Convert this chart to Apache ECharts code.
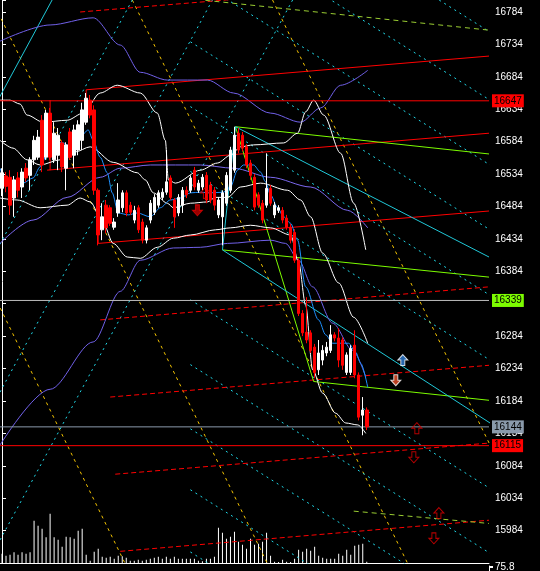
<!DOCTYPE html>
<html><head><meta charset="utf-8">
<script src="https://cdn.jsdelivr.net/npm/echarts@6/dist/echarts.min.js"></script>
<style>html,body{margin:0;padding:0;background:#000;}#c{width:540px;height:571px;}</style>
</head><body><div id="c"></div>
<script>
// ---------- data ----------
const tickLabels = [16784,16734,16684,16634,16584,16534,16484,16434,16384,16284,16234,16184,16134,16084,16034,15984];
// candles: [open, close, low, high]
const candles = [
[16512,16536,16500,16543],[16531,16515,16506,16537],[16529,16486,16471,16540],[16497,16525,16468,16531],
[16528,16509,16498,16537],[16514,16537,16497,16543],[16543,16528,16522,16551],[16532,16556,16509,16560],
[16556,16586,16548,16593],[16560,16591,16556,16602],[16617,16548,16537,16625],[16560,16628,16556,16633],
[16628,16560,16556,16636],[16556,16597,16551,16614],[16563,16594,16540,16605],[16582,16545,16537,16586],
[16543,16579,16509,16583],[16599,16560,16556,16605],[16563,16602,16543,16610],[16571,16610,16563,16617],
[16586,16633,16571,16644],[16614,16651,16610,16659],[16648,16625,16620,16656],[16633,16509,16502,16640],
[16509,16440,16424,16512],[16448,16468,16432,16489],[16486,16451,16443,16494],[16482,16458,16454,16486],
[16452,16460,16448,16466],[16474,16494,16468,16520],[16482,16505,16475,16509],[16505,16474,16469,16509],
[16486,16475,16471,16491],[16463,16478,16458,16485],[16482,16448,16443,16486],[16460,16432,16427,16465],
[16432,16451,16427,16455],[16463,16489,16458,16494],[16475,16498,16471,16503],[16486,16505,16482,16509],
[16498,16506,16494,16512],[16506,16522,16502,16571],[16528,16498,16494,16532],[16494,16468,16451,16497],
[16474,16498,16469,16503],[16486,16509,16474,16514],[16509,16502,16497,16515],[16509,16528,16505,16532],
[16540,16514,16509,16545],[16509,16520,16505,16525],[16514,16529,16509,16534],[16532,16494,16489,16537],
[16517,16494,16489,16522],[16509,16486,16478,16514],[16471,16494,16466,16498],[16468,16505,16424,16509],
[16489,16532,16485,16537],[16509,16571,16505,16576],[16540,16594,16536,16607],[16597,16571,16566,16605],
[16594,16574,16569,16599],[16576,16548,16543,16580],[16551,16532,16525,16556],[16529,16483,16478,16534],
[16502,16486,16482,16506],[16489,16463,16458,16494],[16486,16512,16482,16566],[16512,16489,16485,16517],
[16471,16486,16466,16491],[16478,16482,16474,16486],[16478,16463,16458,16483],[16466,16452,16448,16471],
[16452,16432,16427,16457],[16444,16401,16397,16449],[16401,16319,16315,16404],[16319,16289,16284,16324],
[16290,16278,16273,16344],[16289,16262,16258,16293],[16267,16228,16219,16272],[16232,16258,16224,16278],
[16247,16262,16239,16270],[16258,16267,16253,16275],[16262,16286,16258,16301],[16286,16281,16276,16290],
[16281,16247,16236,16296],[16278,16239,16232,16282],[16228,16255,16224,16259],[16228,16265,16224,16270],
[16270,16224,16219,16293],[16224,16159,16154,16228],[16162,16170,16131,16190],[16170,16144,16139,16174]
];
const volumes = [93,73,83,107,83,107,93,107,423,373,343,257,493,257,233,163,263,257,243,323,343,83,23,113,
143,63,53,63,43,73,67,53,23,23,33,23,33,43,53,63,43,63,43,63,43,43,43,43,43,23,17,43,43,63,
353,303,243,263,313,213,183,143,243,183,193,213,303,73,13,10,33,13,10,43,133,113,143,123,163,73,53,43,
43,43,93,73,133,83,173,183,193,13];
const slotCount = 122;

// price levels with axis tags
const levelValues = [16647, 16339, 16144, 16115];
const levelTags = ['16647', '16339', '16144', '16115'];

// trend lines: [barIndex, price] pairs
const redSolid = [
  [[21,16664],[121.5,16716]],
  [[11.25,16540],[121.5,16597]],
  [[24,16427],[121.5,16477]],
  [[12,16648],[12,16540]],
  [[21,16664],[21,16640]],
  [[24,16470],[24,16427]]
];
const redDashed = [
  [[19.5,16784],[121.5,16836]],
  [[24.5,16309],[121.5,16360]],
  [[27,16190],[121.5,16239]],
  [[28.25,16071],[121.5,16119]],
  [[29.5,15952],[121.5,16000]]
];
const greenSolid = [
  [[58.25,16607],[121.5,16565]],
  [[55,16417],[121.5,16375]],
  [[77.75,16214],[121.5,16185]],
  [[58.25,16607],[77.75,16214]]
];
const greenDashed = [
  [[50.75,16802],[121.5,16756]],
  [[87.75,16014],[121.5,15995]]
];
const cyanSolid = [
  [[58.25,16607],[55,16417]],
  [[58.25,16607],[121.5,16406]],
  [[55,16417],[121.75,16150]],
  [[12.5,16802.5],[-63.5,15934]]
];
const cyanRising = [
  [[32.5,16802.5],[-43.6,15934]],
  [[52.5,16802.5],[-23.6,15934]],
  [[72.5,16802.5],[-3.6,15934]]
];
const cyanFalling = [
  [[47,17044],[121.75,16753]],
  [[47,16939],[121.75,16648]],
  [[47,16839],[121.75,16548]],
  [[47,16738],[121.75,16448]],
  [[47,16638],[121.75,16347]],
  [[47,16538],[121.75,16247]],
  [[47,16340],[121.75,16049]],
  [[47,16240],[121.75,15949]],
  [[47,16141],[121.75,15850]],
  [[47,16047],[121.75,15756]],
  [[47,15951],[121.75,15661]]
];
const yellowDotted = [
  [[-38,16802.5],[30.65,15934]],
  [[-2.5,16802.5],[66.15,15934]],
  [[32.5,16802.5],[101.15,15934]],
  [[67.5,16802.5],[136.15,15934]]
];
const blueMA = [[-0.5,16543],[1.25,16520],[3.25,16514],[5.25,16520],[7.75,16528],[9.5,16545],[11.5,16568],
[13.75,16583],[15.25,16582],[17,16577],[19.5,16591],[21.5,16602],[22.75,16586],[24.5,16560],[26.25,16536],
[27.5,16505],[29,16474],[31.5,16471],[33.75,16474],[37,16468],[39.5,16482],[42,16494],[44.5,16497],
[47,16505],[49.5,16506],[52,16505],[55.25,16506],[57,16514],[58.75,16540],[60.25,16548],[62.75,16548],
[64.5,16537],[65.75,16522],[67,16502],[68.75,16482],[70.25,16468],[72,16458],[73.75,16432],[75.75,16360],
[79,16309],[80.75,16286],[82.5,16273],[84.5,16273],[86.5,16273],[88.25,16259],[89.5,16242],[91.25,16205]];
const purpleMid = [[-0.5,16427],[7.75,16463],[16.25,16498],[24.5,16529],[29.5,16543],[37,16548],[49.5,16548],
[57.75,16543],[67,16529],[77,16514],[86.25,16478],[91.25,16451]];
const purpleUpper = [[-0.5,16739],[12,16764],[22.75,16775],[29.5,16733],[34.5,16691],[41.25,16679],[51.25,16679],
[57.75,16659],[67,16628],[74.5,16614],[79.5,16636],[84.5,16671],[91.25,16694]];
const purpleLower = [[-0.5,16116],[12,16202],[22.75,16275],[29.5,16353],[34.5,16401],[42.75,16420],[49.5,16421],
[56.25,16427],[67,16432],[70.75,16427],[74,16401],[77.5,16360],[82.5,16304],[87.5,16262],[90.75,16221]];
const whiteMA = [[-0.5,16586],[2.75,16574],[6.25,16556],[9.5,16548],[14.5,16556],[18.25,16568],[22,16576],
[27.75,16552],[33.75,16536],[35.75,16525],[37.75,16505],[41.25,16489],[42.75,16482],[47,16489],[51.25,16491],
[53.25,16498],[56.25,16498],[59.5,16514],[64.5,16520],[71.25,16509],[74.5,16494],[77,16468],[80,16412],
[84,16366],[87.75,16313],[91.25,16273]];
const bandUpper = [[-0.5,16648],[2,16648],[4.5,16642],[6.25,16625],[10.25,16614],[16.25,16617],[20.25,16628],
[24.5,16659],[28.75,16671],[34.5,16659],[38.75,16628],[40.75,16586],[41.5,16525],[43.25,16520],[49.5,16540],
[53.75,16551],[57,16563],[59.5,16576],[62.75,16579],[70.25,16582],[73.75,16597],[75.75,16630],[77.75,16648],
[80.25,16625],[84.5,16566],[87.75,16489],[90.75,16417]];
const bandLower = [[-0.5,16497],[3.75,16494],[9.5,16482],[16.25,16486],[19.5,16497],[22,16491],[25.25,16458],
[27.75,16427],[31.25,16406],[34.5,16404],[38.75,16421],[42.75,16435],[47,16440],[53.25,16448],[57,16451],
[62,16455],[67,16451],[72,16440],[74,16398],[75.75,16332],[77.5,16232],[80,16196],[83.25,16165],[85.75,16150],
[88.75,16147],[90.75,16134]];

// signal arrows: [barIndex, price]
const arrowsUpOutline = [[103.5,16142],[109,16011],[50.75,16505]];
const arrowsDownOutline = [[102.75,16097],[107.75,15972]];
const arrowsDownFilled = [[48.75,16478]];
const arrowBlueUp = [[100,16247]];
const arrowOrangeDown = [[98.25,16216]];

// ---------- chart ----------
const chart = echarts.init(document.getElementById('c'), null, {renderer:'canvas'});
const cats = Array.from({length:slotCount}, (_, i) => String(i));
const UP = 'path://M5,0 L10,5 L7,5 L7,10 L3,10 L3,5 L0,5 Z';
const DOWN = 'path://M3,0 L7,0 L7,5 L10,5 L5,10 L0,5 L3,5 Z';
const levelColors = ['#ff0000','#7cfc00','#8a9aab','#ff0000'];
const levelLineColors = ['#ff0000','#bcbcbc','#8a9aab','#ff0000'];

function lineSeries(pts, color, type, width, smooth, z) {
  return {type:'line', xAxisIndex:1, yAxisIndex:0, data:pts, symbol:'none', silent:true,
    smooth: smooth ? 0.3 : false, smoothMonotone: smooth ? 'x' : undefined, clip:true, animation:false, z:z||3,
    lineStyle:{color:color, width:width||1, type:type||'solid'}};
}
const series = [];
series.push({type:'bar', xAxisIndex:0, yAxisIndex:1, data:volumes, barWidth:1, itemStyle:{color:'#ffffff'}, animation:false, z:2});
yellowDotted.forEach(p => series.push(lineSeries(p,'#f2c200',[3,4],1)));
cyanRising.forEach(p => series.push(lineSeries(p,'#20d8e8',[2,4],1)));
cyanFalling.forEach(p => series.push(lineSeries(p,'#20d8e8',[2,4],1)));
redSolid.forEach(p => series.push(lineSeries(p,'#ff0000','solid',1)));
redDashed.forEach(p => series.push(lineSeries(p,'#ff0000',[5,3],1)));
greenSolid.forEach(p => series.push(lineSeries(p,'#7cfc00','solid',1)));
greenDashed.forEach(p => series.push(lineSeries(p,'#9acd32',[5,4],1)));
cyanSolid.forEach(p => series.push(lineSeries(p,'#20c8d8','solid',1)));
series.push(lineSeries(purpleUpper,'#7060e8','solid',1,true));
series.push(lineSeries(purpleLower,'#7060e8','solid',1,true));
series.push(lineSeries(purpleMid,'#7b68ee','solid',1,true));
series.push(lineSeries(whiteMA,'#ffffff','solid',1,true));
series.push(lineSeries(bandUpper,'#ffffff','solid',1,true));
series.push(lineSeries(bandLower,'#ffffff','solid',1,true));
series.push(lineSeries(blueMA,'#1e90ff','solid',1,true));
levelValues.forEach((v, k) => {
  const s = lineSeries([[-0.5, v],[slotCount-0.5, v]], levelLineColors[k], 'solid', 1, false, 4);
  s.endLabel = {show:true, formatter:levelTags[k], color:'#000', backgroundColor:levelColors[k],
    padding:[2,2,1,2], distance:3, fontSize:10, fontFamily:'Liberation Sans'};
  series.push(s);
});
series.push({
  type:'candlestick', xAxisIndex:0, yAxisIndex:0, data:candles, barWidth:3, animation:false, z:5,
  itemStyle:{color:'#ffffff', color0:'#ff0000', borderColor:'#ffffff', borderColor0:'#ff0000', borderWidth:1}
});
function scatter(pts, symbol, fill, stroke) {
  return {type:'scatter', xAxisIndex:1, yAxisIndex:0, data:pts, symbol:symbol, symbolSize:[10,11],
    itemStyle:{color:fill, borderColor:stroke, borderWidth:1}, animation:false, z:6, silent:true};
}
series.push(scatter(arrowsUpOutline, UP, 'rgba(0,0,0,0)', '#e00000'));
series.push(scatter(arrowsDownOutline, DOWN, 'rgba(0,0,0,0)', '#e00000'));
series.push(scatter(arrowsDownFilled, DOWN, '#c00000', '#e00000'));
series.push(scatter(arrowBlueUp, UP, '#2f7fd8', '#ffffff'));
series.push(scatter(arrowOrangeDown, DOWN, '#e8502a', '#ffffff'));

chart.setOption({
  backgroundColor:'#000',
  animation:false,
  grid:[{left:0, right:51, top:0, height:563, show:false},
        {left:0, right:51, top:566, height:20, show:false}],
  xAxis:[
    {type:'category', data:cats, gridIndex:0, boundaryGap:true, axisLine:{show:true, lineStyle:{color:'#fff'}},
      axisTick:{show:false}, axisLabel:{show:false}, splitLine:{show:false}},
    {type:'value', gridIndex:0, min:-0.5, max:slotCount-0.5, show:false},
    {type:'category', data:cats, gridIndex:1, position:'top', axisLine:{show:true, lineStyle:{color:'#fff'}},
      axisTick:{show:false}, axisLabel:{show:false}}
  ],
  yAxis:[
    {type:'value', gridIndex:0, position:'right', min:15934, max:16802.5, interval:50,
      axisLine:{show:true, lineStyle:{color:'#fff'}}, axisTick:{show:true, length:4, lineStyle:{color:'#fff'}},
      splitLine:{show:false},
      axisLabel:{color:'#fff', fontSize:10, fontFamily:'Liberation Sans', margin:6,
        formatter:v => tickLabels.includes(Math.round(v)) && Math.abs(v-Math.round(v))<0.01 ? String(Math.round(v)) : ''}},
    {type:'value', gridIndex:0, min:0, max:5630, show:false},
    {type:'value', gridIndex:1, position:'right', min:0, max:101.07, interval:75.8,
      axisLine:{show:true, lineStyle:{color:'#fff'}}, axisTick:{show:true, length:4, lineStyle:{color:'#fff'}},
      splitLine:{show:false},
      axisLabel:{color:'#fff', fontSize:10, fontFamily:'Liberation Sans', margin:6,
        formatter:v => Math.abs(v-75.8)<0.01 ? '75.8' : ''}}
  ],
  series:series
});
</script></body></html>
